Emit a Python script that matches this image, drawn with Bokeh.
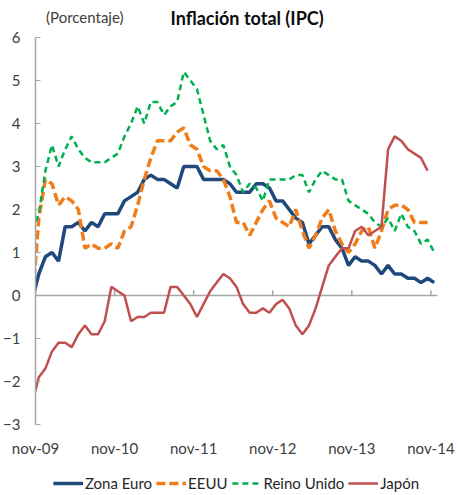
import numpy as np
from bokeh.plotting import figure
from bokeh.layouts import column
from bokeh.models import Legend, LegendItem, FixedTicker, Range1d
from bokeh.core.properties import value
from bokeh.embed import file_html
from bokeh.resources import INLINE

# Monthly year-on-year CPI inflation, oct-09 ... nov-14 (oct-09 lies just left of the axis)
zona_euro = [-0.1, 0.5, 0.9,
             1.0, 0.8, 1.6, 1.6, 1.7, 1.5, 1.7, 1.6, 1.9, 1.9, 1.9, 2.2,
             2.3, 2.4, 2.7, 2.8, 2.7, 2.7, 2.6, 2.5, 3.0, 3.0, 3.0, 2.7,
             2.7, 2.7, 2.7, 2.6, 2.4, 2.4, 2.4, 2.6, 2.6, 2.5, 2.2, 2.2,
             2.0, 1.8, 1.7, 1.2, 1.4, 1.6, 1.6, 1.3, 1.1, 0.7, 0.9, 0.8,
             0.8, 0.7, 0.5, 0.7, 0.5, 0.5, 0.4, 0.4, 0.3, 0.4, 0.3]
eeuu = [-0.2, 1.8, 2.7,
        2.6, 2.1, 2.3, 2.2, 2.0, 1.1, 1.2, 1.1, 1.1, 1.2, 1.1, 1.5,
        1.6, 2.1, 2.7, 3.2, 3.6, 3.6, 3.6, 3.8, 3.9, 3.5, 3.4, 3.0,
        2.9, 2.9, 2.7, 2.3, 1.7, 1.7, 1.4, 1.7, 2.0, 2.2, 1.8, 1.7,
        1.6, 2.0, 1.5, 1.1, 1.4, 1.8, 2.0, 1.5, 1.2, 1.0, 1.2, 1.5,
        1.6, 1.1, 1.5, 2.0, 2.1, 2.1, 2.0, 1.7, 1.7, 1.7]
reino_unido = [1.5, 1.9, 2.9,
               3.5, 3.0, 3.4, 3.7, 3.4, 3.2, 3.1, 3.1, 3.1, 3.2, 3.3, 3.7,
               4.0, 4.4, 4.0, 4.5, 4.5, 4.2, 4.4, 4.5, 5.2, 5.0, 4.8, 4.2,
               3.6, 3.4, 3.5, 3.0, 2.8, 2.4, 2.6, 2.5, 2.2, 2.7, 2.7, 2.7,
               2.7, 2.8, 2.8, 2.4, 2.7, 2.9, 2.8, 2.7, 2.7, 2.2, 2.1, 2.0,
               1.9, 1.7, 1.6, 1.8, 1.5, 1.9, 1.6, 1.5, 1.2, 1.3, 1.0]
japon = [-2.5, -1.9, -1.7,
         -1.3, -1.1, -1.1, -1.2, -0.9, -0.7, -0.9, -0.9, -0.6, 0.2, 0.1, 0.0,
         -0.6, -0.5, -0.5, -0.4, -0.4, -0.4, 0.2, 0.2, 0.0, -0.2, -0.5, -0.2,
         0.1, 0.3, 0.5, 0.4, 0.2, -0.2, -0.4, -0.4, -0.3, -0.4, -0.2, -0.1,
         -0.3, -0.7, -0.9, -0.7, -0.3, 0.2, 0.7, 0.9, 1.1, 1.1, 1.5, 1.6,
         1.4, 1.5, 1.6, 3.4, 3.7, 3.6, 3.4, 3.3, 3.2, 2.9]

series_names = ["Zona Euro", "EEUU", "Reino Unido", "Japón"]
tick_months = [0, 12, 24, 36, 48, 60]
tick_labels = ["nov-09", "nov-10", "nov-11", "nov-12", "nov-13", "nov-14"]
y_ticks = [-3, -2, -1, 0, 1, 2, 3, 4, 5, 6]

FONT = "Lato"
TXT = "#404040"
STYLES = [dict(line_color="#1F497D", line_width=3.5),
          dict(line_color="#F07D1A", line_width=3.5, line_dash="9 4"),
          dict(line_color="#00B050", line_width=2.5, line_dash="6 4"),
          dict(line_color="#C0504D", line_width=2.5)]

def month_pos(vals):
    # month slot centres; first value (oct-09) sits half a month left of the axis
    return np.arange(len(vals)) - 0.5

W = 458
TOP_H = 28

# ---- header: unit and title ----
top = figure(width=W, height=TOP_H, x_range=Range1d(0, W), y_range=Range1d(TOP_H, 0),
             output_backend="svg", toolbar_location=None,
             x_axis_type=None, y_axis_type=None, min_border=0)
top.outline_line_color = None
top.grid.visible = False
top.background_fill_color = "white"
top.border_fill_color = "white"
top.text(x=[12], y=[16], text=["(Porcentaje)"], text_align="left",
         text_baseline="middle", text_font=value(FONT), text_font_size="15px",
         text_color=TXT)
top.text(x=[241], y=[17], text=["Inflación total (IPC)"], text_align="center",
         text_baseline="middle", text_font=value(FONT), text_font_size="18px",
         text_font_style="bold", text_color="#0d0d0d")

# ---- main chart ----
p = figure(width=W, height=442, x_range=(0, 61), y_range=(-3, 6),
           output_backend="svg", toolbar_location=None,
           min_border_left=30, min_border_right=21, min_border_top=9,
           min_border_bottom=46)
p.background_fill_color = "white"
p.border_fill_color = "white"
p.outline_line_color = None
p.grid.visible = False

p.yaxis.ticker = FixedTicker(ticks=y_ticks)
p.yaxis.axis_line_color = "#a6a6a6"
p.yaxis.axis_line_width = 1.5
p.yaxis.major_tick_line_color = "#a6a6a6"
p.yaxis.major_tick_in = 5
p.yaxis.major_tick_out = 0
p.yaxis.minor_tick_line_color = None
p.yaxis.major_label_standoff = 15
p.yaxis.major_label_text_font = FONT
p.yaxis.major_label_text_font_size = "15px"
p.yaxis.major_label_text_color = TXT

p.xaxis.ticker = FixedTicker(ticks=tick_months)
p.xaxis.major_label_overrides = {t: l for t, l in zip(tick_months, tick_labels)}
p.xaxis.axis_line_color = None
p.xaxis.major_tick_line_color = None
p.xaxis.major_tick_in = 0
p.xaxis.major_tick_out = 0
p.xaxis.minor_tick_line_color = None
p.xaxis.major_label_standoff = 14
p.xaxis.major_label_text_font = FONT
p.xaxis.major_label_text_font_size = "15px"
p.xaxis.major_label_text_color = TXT

# zero line with the yearly category ticks
p.line(x=[0, 61], y=[0, 0], line_color="#a6a6a6", line_width=1.5)
p.segment(x0=tick_months, y0=[0] * len(tick_months), x1=tick_months,
          y1=[0.12] * len(tick_months), line_color="#a6a6a6", line_width=1.5)

for vals, st in zip([zona_euro, eeuu, reino_unido, japon], STYLES):
    p.line(month_pos(vals), vals, **st)

# ---- legend strip ----
leg = figure(width=W, height=25, x_range=Range1d(0, 1), y_range=Range1d(0, 1),
             output_backend="svg", toolbar_location=None,
             x_axis_type=None, y_axis_type=None, min_border=0)
leg.outline_line_color = None
leg.grid.visible = False
leg.background_fill_color = "white"
leg.border_fill_color = "white"
items = []
for name, st in zip(series_names, STYLES):
    r = leg.line(x=[np.nan], y=[np.nan], **st)  # style carrier only, draws nothing
    items.append(LegendItem(label=name, renderers=[r]))
legend = Legend(items=items, orientation="horizontal", location="center",
                border_line_color=None, background_fill_alpha=0,
                margin=0, padding=0, spacing=4, glyph_width=30, glyph_height=16,
                label_standoff=2, label_height=16,
                label_text_font=FONT, label_text_font_size="15px",
                label_text_color="#262626")
leg.add_layout(legend)

layout = column(top, p, leg, spacing=0)
open("out.html", "w").write(file_html(layout, INLINE))
